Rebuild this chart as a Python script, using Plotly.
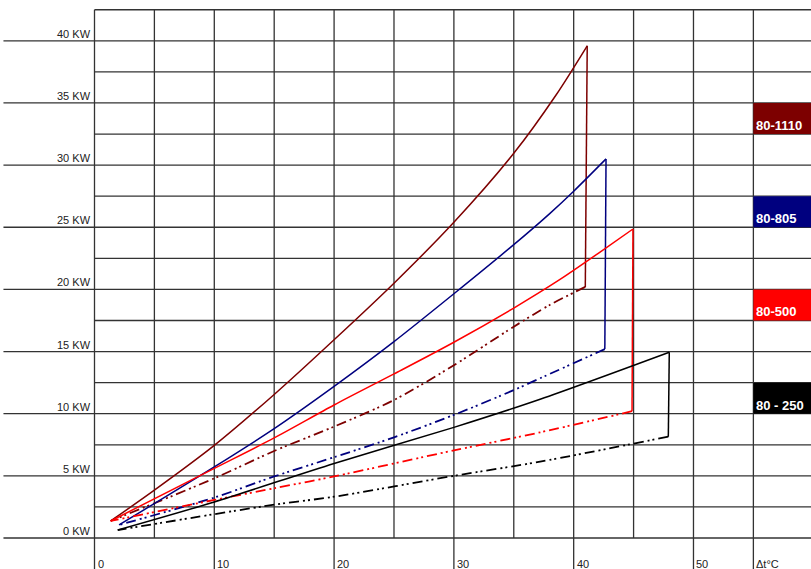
import plotly.graph_objects as go

# ---------------- data ----------------
# 80-1110 (dark red): rising curve, then vertical drop (last point), then dashed return
t_1110_solid = [1.35, 5, 10, 15, 20, 25, 30, 35, 38.5, 41.13, 40.97]
kw_1110_solid = [1.37, 3.85, 7.45, 11.55, 15.95, 20.5, 25.4, 30.95, 35.6, 39.6, 20.2]
t_1110_dash = [40.97, 38, 35, 30, 25, 20, 15, 10, 1.35]
kw_1110_dash = [20.2, 18.75, 17.0, 13.9, 11.1, 8.96, 7.0, 4.8, 1.37]

# 80-805 (blue)
t_805_solid = [2.05, 10, 15, 20, 25, 30, 35, 38, 40, 42.7, 42.6]
kw_805_solid = [1.05, 5.72, 8.8, 12.2, 15.8, 19.65, 23.6, 26.1, 27.9, 30.5, 15.2]
t_805_dash = [42.6, 37.2, 35, 30, 25, 20, 15, 10, 2.05]
kw_805_dash = [15.2, 12.85, 11.9, 9.9, 8.1, 6.5, 4.95, 3.25, 1.05]

# 80-500 (red)
t_500_solid = [1.35, 10, 15, 20, 25, 30, 35, 38.86, 42.2, 44.95, 44.87]
kw_500_solid = [1.37, 5.6, 8.05, 10.7, 13.2, 15.75, 18.5, 20.8, 23.0, 24.86, 10.2]
t_500_dash = [44.87, 37.2, 30, 20, 15, 10, 1.35]
kw_500_dash = [10.2, 8.5, 7.05, 4.95, 4.0, 3.06, 1.37]

# 80-250 (black)
t_250_solid = [1.94, 10, 20, 30, 37.2, 47.98, 47.9]
kw_250_solid = [0.64, 2.9, 6.0, 8.9, 11.16, 14.94, 8.15]
t_250_dash = [47.9, 37.2, 30, 20, 15, 1.94]
kw_250_dash = [8.15, 6.14, 5.0, 3.32, 2.68, 0.64]

series_names = ["80-1110", "80-805", "80-500", "80 - 250"]
series_colors = ["#7d0000", "#00007f", "#ff0000", "#000000"]
legend_kw_low = [32.5, 25, 17.5, 10]

y_tick_values = [0, 5, 10, 15, 20, 25, 30, 35, 40]
y_tick_labels = ["0 KW", "5 KW", "10 KW", "15 KW", "20 KW", "25 KW", "30 KW", "35 KW", "40 KW"]
x_tick_values = [0, 10, 20, 30, 40, 50]
x_tick_labels = ["0", "10", "20", "30", "40", "50"]
x_unit_label = "Δt°C"

# ---------------- figure ----------------
X_MIN, X_MAX = -7.888, 59.81
Y_MIN, Y_MAX = -2.494, 43.283
GRID = dict(color="#333333", width=1.3)
FONT = "Liberation Sans, Arial"

fig = go.Figure()

shapes = []
# vertical grid lines
for v in range(0, 60, 5):
    bottom = Y_MIN if (v % 10 == 0 or v == 55) else 0
    shapes.append(dict(type="line", xref="x", yref="y", x0=v, x1=v, y0=bottom, y1=42.5,
                       line=GRID, layer="below"))
# horizontal grid lines
for i in range(0, 18):
    h = i * 2.5
    left = -7.6 if i % 2 == 0 else 0
    shapes.append(dict(type="line", xref="x", yref="y", x0=left, x1=X_MAX + 1, y0=h, y1=h,
                       line=GRID, layer="below"))

annotations = []
# legend boxes
for name, col, low in zip(series_names, series_colors, legend_kw_low):
    shapes.append(dict(type="rect", xref="x", yref="y", x0=55, x1=X_MAX + 1, y0=low, y1=low + 2.5,
                       fillcolor=col, line=dict(width=0), layer="above"))
    annotations.append(dict(x=55, y=low, xref="x", yref="y", text="<b>%s</b>" % name,
                            showarrow=False, xanchor="left", yanchor="bottom", xshift=1, yshift=-1,
                            font=dict(family=FONT, size=13, color="white")))

for v, lab in zip(y_tick_values, y_tick_labels):
    annotations.append(dict(x=-0.15, y=v, xref="x", yref="y", text=lab, showarrow=False,
                            xanchor="right", yanchor="middle", yshift=7,
                            font=dict(family=FONT, size=11, color="#222")))
for v, lab in zip(x_tick_values, x_tick_labels):
    annotations.append(dict(x=v, y=-2.1, xref="x", yref="y", text=lab, showarrow=False,
                            xanchor="left", yanchor="middle", xshift=1,
                            font=dict(family=FONT, size=11, color="#222")))
annotations.append(dict(x=55, y=-2.1, xref="x", yref="y", text=x_unit_label, showarrow=False,
                        xanchor="left", yanchor="middle", xshift=1,
                        font=dict(family=FONT, size=11, color="#222")))

DASH = "10px,4px,2px,3px,2px,4px"
series = [
    (t_1110_solid, kw_1110_solid, t_1110_dash, kw_1110_dash, series_colors[0]),
    (t_805_solid, kw_805_solid, t_805_dash, kw_805_dash, series_colors[1]),
    (t_500_solid, kw_500_solid, t_500_dash, kw_500_dash, series_colors[2]),
    (t_250_solid, kw_250_solid, t_250_dash, kw_250_dash, series_colors[3]),
]
for (ts, ks, td, kd, col), name in zip(series, series_names):
    # smooth rising curve (all points but the vertical drop)
    fig.add_trace(go.Scatter(x=ts[:-1], y=ks[:-1], mode="lines", name=name,
                             line=dict(color=col, width=1.5, shape="spline", smoothing=0.8),
                             hoverinfo="skip"))
    # vertical drop at the end
    fig.add_trace(go.Scatter(x=ts[-2:], y=ks[-2:], mode="lines", name=name + " drop",
                             line=dict(color=col, width=1.5), hoverinfo="skip"))
    # dashed return line
    fig.add_trace(go.Scatter(x=td, y=kd, mode="lines", name=name + " min",
                             line=dict(color=col, width=1.8, dash=DASH, shape="spline", smoothing=0.8),
                             hoverinfo="skip"))

fig.update_layout(
    width=811, height=569, autosize=False,
    margin=dict(l=0, r=0, t=0, b=0, pad=0),
    paper_bgcolor="white", plot_bgcolor="white",
    showlegend=False,
    shapes=shapes, annotations=annotations,
    xaxis=dict(range=[X_MIN, X_MAX], showgrid=False, zeroline=False, showticklabels=False,
               showline=False, fixedrange=True),
    yaxis=dict(range=[Y_MIN, Y_MAX], showgrid=False, zeroline=False, showticklabels=False,
               showline=False, fixedrange=True),
)

fig.write_html("out.html", config={"displayModeBar": False},
               post_script="document.body.style.margin='0';")
